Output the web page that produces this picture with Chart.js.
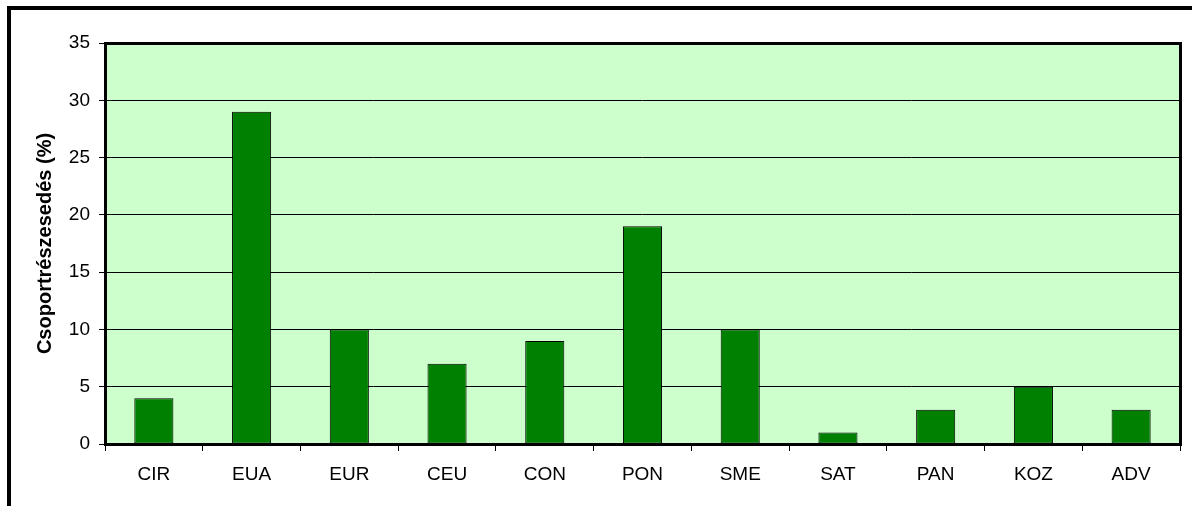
<!DOCTYPE html>
<html>
<head>
<meta charset="utf-8">
<script src="https://cdn.jsdelivr.net/npm/chart.js@4"></script>
<style>
  body { margin: 0; background: #fff; }
  #wrap { position: relative; width: 1192px; height: 506px; overflow: hidden; }
  #keret { position: absolute; left: 7px; top: 6px; width: 1300px; height: 600px;
           border-left: 4px solid #000; border-top: 4px solid #000; }
  #myChart { position: absolute; left: 0; top: 0; }
</style>
</head>
<body>
<div id="wrap">
  <div id="keret"></div>
  <canvas id="myChart" width="1192" height="506"></canvas>
</div>
<script>
// adatok
const kategoriak = ["CIR", "EUA", "EUR", "CEU", "CON", "PON", "SME", "SAT", "PAN", "KOZ", "ADV"];
const ertekek = [4, 29, 10, 7, 9, 19, 10, 1, 3, 5, 3];
const tengelyCim = "Csoportrészesedés (%)";

const betu = "'Liberation Sans', Arial, sans-serif";

// plot terület háttere és kerete
const teruletPlugin = {
  id: "terulet",
  beforeDraw(chart) {
    const { ctx, chartArea: a } = chart;
    ctx.save();
    ctx.fillStyle = "#CCFFCC";
    ctx.fillRect(a.left, a.top, a.right - a.left, a.bottom - a.top);
    ctx.restore();
  },
  afterDraw(chart) {
    const { ctx, chartArea: a } = chart;
    ctx.save();
    ctx.strokeStyle = "#000";
    ctx.lineWidth = 3;
    ctx.strokeRect(a.left + 0.5, a.top + 0.5, a.right - a.left, a.bottom - a.top);
    ctx.restore();
  }
};

const config = {
  type: "bar",
  data: {
    labels: kategoriak,
    datasets: [{
      data: ertekek,
      backgroundColor: "#008000",
      borderColor: "#000",
      borderWidth: 1,
      borderSkipped: false,
      barPercentage: 0.4,
      categoryPercentage: 1
    }]
  },
  options: {
    responsive: false,
    animation: false,
    layout: { padding: { top: 43, right: 12, left: 0, bottom: 0 } },
    plugins: { legend: { display: false }, tooltip: { enabled: false } },
    scales: {
      x: {
        grid: { offset: true, drawOnChartArea: false, drawTicks: true, tickLength: 7, color: "#000" },
        border: { display: false },
        ticks: { color: "#000", padding: 12, font: { family: betu, size: 19 } },
        afterFit(scale) { scale.height = 62; }
      },
      y: {
        min: 0,
        max: 35,
        grid: { color: "#000", tickLength: 6, lineWidth: 1 },
        border: { display: false },
        ticks: { stepSize: 5, color: "#000", padding: 9, font: { family: betu, size: 19 } },
        title: {
          display: true,
          text: tengelyCim,
          color: "#000",
          font: { family: betu, size: 20, weight: "bold" },
          padding: { top: 33, bottom: 0 }
        },
        afterFit(scale) { scale.width = 105; }
      }
    }
  },
  plugins: [teruletPlugin]
};

new Chart(document.getElementById("myChart"), config);
</script>
</body>
</html>
